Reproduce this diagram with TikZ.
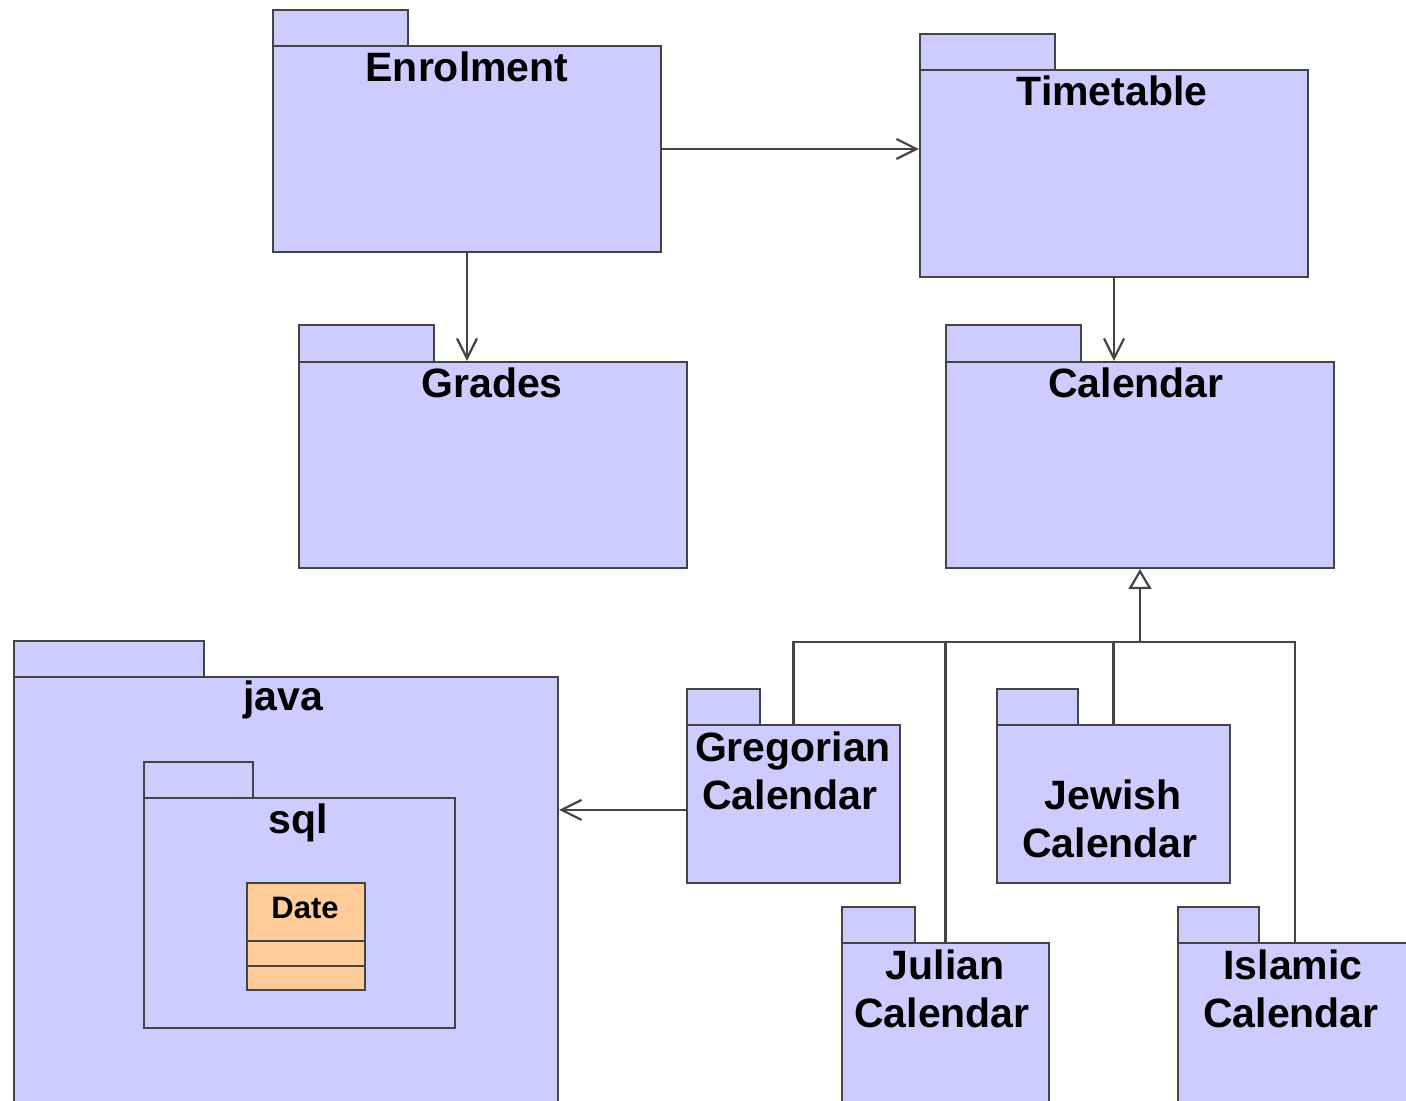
\documentclass[tikz,border=0pt]{standalone}
\usepackage{fontspec}
\setmainfont{Liberation Sans}
\usetikzlibrary{arrows.meta,fit}
\definecolor{pkgfill}{HTML}{CCCCFF}
\definecolor{clsfill}{HTML}{FFCC99}
\definecolor{edgecol}{HTML}{444444}

% package: name, left x, tab top, tab right x, body top, body right x, body bottom
\newcommand\umlpkg[7]{%
  \draw[pkgline] (#2,#3) rectangle (#4,#5);
  \node[pkgline, fit={(#2,#5)(#6,#7)}, inner sep=0pt] (#1) {};
}

\begin{document}
\begin{tikzpicture}[x=0.5pt,y=-0.5pt,
  pkgline/.style={draw=edgecol, fill=pkgfill, line width=1.1pt},
  title/.style={font=\fontsize{20.5}{24}\selectfont\bfseries, inner sep=0pt, anchor=base},
  conn/.style={draw=edgecol, line width=1.1pt},
  dep/.style={conn, -{Straight Barb[length=10pt,width=10pt]}},
  gen/.style={conn, -{Triangle[open,length=10pt,width=11.5pt,fill=white]}}]
  \useasboundingbox (0,0) rectangle (1406,1101);
  \clip (0,0) rectangle (1406,1101);

  % packages
  \umlpkg{enr}{273}{10}{408}{46}{661}{252}
  \umlpkg{tt}{920}{34}{1055}{70}{1308}{277}
  \umlpkg{gr}{299}{325}{434}{362}{687}{568}
  \umlpkg{cal}{946}{325}{1081}{362}{1334}{568}
  \umlpkg{java}{14}{641}{204}{677}{558}{1120}
  \umlpkg{sql}{144}{762}{253}{798}{455}{1028}
  \umlpkg{greg}{687}{689}{760}{725}{900}{883}
  \umlpkg{jew}{997}{689}{1078}{725}{1230}{883}
  \umlpkg{jul}{842}{907}{915}{943}{1049}{1120}
  \umlpkg{isl}{1178}{907}{1259}{943}{1412}{1120}

  % class Date inside java.sql
  \node[draw=edgecol, fill=clsfill, line width=1.1pt, fit={(247,883)(365,990)}, inner sep=0pt] (date) {};
  \draw[conn] (247,941) -- (365,941);
  \draw[conn] (247,966) -- (365,966);
  \node[font=\fontsize{15.5}{18}\selectfont\bfseries, inner sep=0pt, anchor=base] (date-t) at (305,918) {Date};

  % titles
  \node[title] (enr-t) at (467,82) {Enrolment};
  \node[title] (tt-t) at (1112,106) {Timetable};
  \node[title] (gr-t) at (492,397) {Grades};
  \node[title] (cal-t) at (1136,397) {Calendar};
  \node[title] (java-t) at (283,710) {java};
  \node[title] (sql-t) at (298,833) {sql};
  \node[title] (greg-t1) at (793,761) {Gregorian};
  \node[title] (greg-t2) at (790,809) {Calendar};
  \node[title] (jew-t1) at (1113,809) {Jewish};
  \node[title] (jew-t2) at (1110,857) {Calendar};
  \node[title] (jul-t1) at (945,979) {Julian};
  \node[title] (jul-t2) at (942,1027) {Calendar};
  \node[title] (isl-t1) at (1293,979) {Islamic};
  \node[title] (isl-t2) at (1291,1027) {Calendar};

  % dependencies
  \draw[dep] (enr.east) -- (enr.east -| tt.west);
  \draw[dep] (enr.south) -- (enr.south |- gr.north);
  \draw[dep] (tt.south) -- (tt.south |- cal.north);
  \path (greg.north west) ++(0,86) coordinate (gj);
  \draw[dep] (gj) -- (gj -| java.east);

  % generalisation tree
  \path (cal.south) ++(0,73) coordinate (hub);
  \draw[gen] (hub) -- (cal.south);
  \draw[conn] (greg.north) |- (hub);
  \draw[conn] (isl.north) |- (hub);
  \draw[conn] (jul.north) -- (jul.north |- hub);
  \draw[conn] (jew.north) -- (jew.north |- hub);
\end{tikzpicture}
\end{document}
